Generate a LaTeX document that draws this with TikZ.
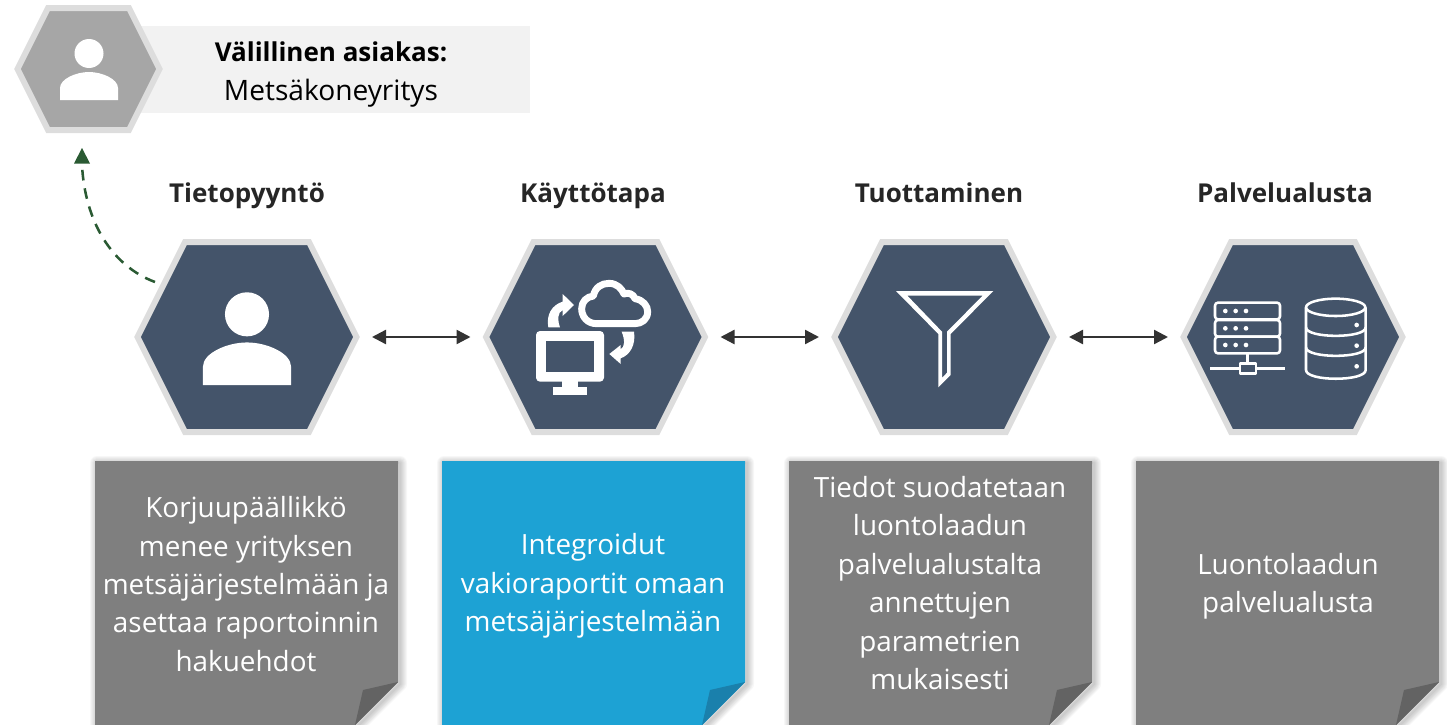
\documentclass[tikz,border=0pt]{standalone}
\usepackage{fontspec}
\setmainfont{Open Sans}
\usetikzlibrary{arrows.meta}
\definecolor{hexdark}{HTML}{44546A}
\definecolor{hexedge}{HTML}{DDDDDD}
\definecolor{hexgray}{HTML}{A6A6A6}
\definecolor{panel}{HTML}{F2F2F2}
\definecolor{notegray}{HTML}{7F7F7F}
\definecolor{foldgray}{HTML}{636363}
\definecolor{noteblue}{HTML}{1DA2D4}
\definecolor{foldblue}{HTML}{1A80AC}
\definecolor{dashgreen}{HTML}{2A5A33}
\definecolor{titletext}{HTML}{262626}
\definecolor{arrowdark}{HTML}{333333}
\tikzset{
  anchorbox/.style={minimum width=187.5pt,minimum height=142.5pt,inner sep=0pt,outer sep=0pt},
  titletextstyle/.style={font=\fontsize{19.5}{24}\selectfont\bfseries,text=titletext,inner sep=0pt,anchor=base},
  notetext/.style={font=\fontsize{20.9}{28.8}\selectfont,text=white,align=center,inner sep=0pt},
  link/.style={arrowdark,line width=1.8pt,{Triangle[length=10.5pt,width=10.5pt]}-{Triangle[length=10.5pt,width=10.5pt]}},
  iconline/.style={draw=white,line width=1.9pt,line join=round,fill=none},
  iconfill/.style={fill=white,draw=none},
}
\newcommand{\bighex}[2]{%
  \fill[hexdark,draw=hexedge,line width=4.5pt,line join=miter]
    (#1-109.5,#2) -- (#1-62,#2-95) -- (#1+62,#2-95) -- (#1+109.5,#2) -- (#1+62,#2+95) -- (#1-62,#2+95) -- cycle;}
\newcommand{\papernote}[3]{%
  \foreach \w in {2,4,...,14}{%
    \draw[black,opacity=.032,line width=\w*0.75pt,line join=round,fill=none]
      (#1+2,463) -- (#1+305,463) -- (#1+305,684) -- (#1+262,727) -- (#1+2,727) -- cycle;}
  \fill[#2] (#1,461) -- (#1+303,461) -- (#1+303,682) -- (#1+260,725) -- (#1,725) -- cycle;
  \fill[#3] (#1+303,682) -- (#1+268,690) -- (#1+260,725) -- cycle;}
\newcommand{\personicon}[3]{%
  \begin{scope}[shift={(#1,#2)},x=#3*0.75pt,y=-#3*0.75pt]
    \fill[white] (0,-46.5) circle[radius=14.5];
    \fill[white] (-29,0) -- (-29,-12) .. controls (-29,-21) and (-13,-28) .. (0,-28)
      .. controls (13,-28) and (29,-21) .. (29,-12) -- (29,0) -- cycle;
  \end{scope}}
\begin{document}
\begin{tikzpicture}[x=0.75pt,y=-0.75pt]
\useasboundingbox (0,0) rectangle (1447,725);
\clip (0,0) rectangle (1447,725);

% top panel
\fill[panel] (130,26) rectangle (530,113);
\fill[hexgray,draw=hexedge,line width=4.5pt,line join=miter]
  (17.5,69) -- (48,8) -- (129,8) -- (159.5,69) -- (129,130) -- (48,130) -- cycle;
\node[anchorbox,minimum width=110pt,minimum height=92pt] (client) at (88.5,69) {};
\personicon{89}{100}{1}
\node[font=\fontsize{19.5}{24}\selectfont\bfseries,text=black,inner sep=0pt,anchor=base] (clienttitle) at (331,61) {Välillinen asiakas:};
\node[font=\fontsize{21.1}{24}\selectfont,text=black,inner sep=0pt,anchor=base] (clientname) at (331,100) {Metsäkoneyritys};

% titles
\node[titletextstyle] (t1) at (247,202) {Tietopyyntö};
\node[titletextstyle] (t2) at (593,202) {Käyttötapa};
\node[titletextstyle] (t3) at (939,202) {Tuottaminen};
\node[titletextstyle] (t4) at (1285,202) {Palvelualusta};

% hexagons
\bighex{247}{337}
\bighex{595.5}{337}
\bighex{944}{337}
\bighex{1293}{337}
\node[anchorbox] (h1) at (247,337) {};
\node[anchorbox] (h2) at (595.5,337) {};
\node[anchorbox] (h3) at (944,337) {};
\node[anchorbox] (h4) at (1293,337) {};

% connectors
\draw[link] (h1.east) -- (h2.west);
\draw[link] (h2.east) -- (h3.west);
\draw[link] (h3.east) -- (h4.west);

% dashed return arrow
\coordinate (dashstart) at (155,282);
\coordinate (dashend) at (82,148);
\draw[dashgreen,line width=1.9pt,dash pattern=on 8pt off 6pt]
  (dashstart) .. controls (112,266) and (85,222) .. (82,165);
\fill[dashgreen] (dashend) -- (90,163.5) -- (74,163.5) -- cycle;

% person icon
\personicon{247}{385}{1.52}

% monitor and cloud icon
\begin{scope}[shift={(480,230)},x=0.25pt,y=-0.25pt]
  \fill[white,rounded corners=3pt] (168,303) rectangle (372,455);
  \fill[hexdark] (197,332) rectangle (343,425);
  \fill[white] (247,450) rectangle (293,472);
  \fill[white] (218,470) rectangle (322,495);
  \draw[iconline,line width=5.2pt]
    (350,281) .. controls (322,281) and (305,260) .. (305,236)
    .. controls (305,215) and (320,200) .. (340,198)
    .. controls (345,172) and (365,160) .. (387,160)
    .. controls (410,160) and (425,175) .. (432,192)
    .. controls (445,186) and (460,192) .. (465,206)
    .. controls (490,210) and (503,228) .. (503,245)
    .. controls (503,268) and (485,281) .. (465,281) -- cycle;
  \fill[iconfill] (205,292) .. controls (198,255) and (215,225) .. (248,215)
    -- (248,192) -- (282,225) -- (248,258) -- (248,240)
    .. controls (232,248) and (232,270) .. (240,292) -- cycle;
  \fill[iconfill] (462,305) .. controls (468,345) and (450,375) .. (422,385)
    -- (422,402) -- (388,372) -- (422,345) -- (422,358)
    .. controls (435,350) and (435,330) .. (425,305) -- cycle;
\end{scope}

% funnel icon
\begin{scope}[shift={(830,230)},x=0.25pt,y=-0.25pt]
  \fill[white,even odd rule]
    (198,183) -- (490,183) -- (362,312) -- (362,435) -- (325,472) -- (325,312) -- cycle
    (232,197) -- (458,197) -- (351,305) -- (351,428) -- (336,444) -- (336,305) -- cycle;
\end{scope}

% server and database icon
\begin{scope}[shift={(1170,230)},x=0.25pt,y=-0.25pt]
  \foreach \yt/\yb in {218/268,270/320,320/370}{
    \draw[iconline,rounded corners=2.2pt] (135,\yt) rectangle (330,\yb);
    \foreach \xd in {166,197,228}{
      \fill[white] (\xd,\yt+25) circle[radius=7];
    }
  }
  \draw[iconline] (232,370) -- (232,400);
  \draw[iconline] (210,400) rectangle (258,430);
  \draw[iconline] (120,415) -- (210,415);
  \draw[iconline] (258,415) -- (345,415);
  \draw[iconline] (497,232) ellipse[x radius=89,y radius=26];
  \draw[iconline] (408,232) -- (408,420) .. controls (408,455) and (587,455) .. (587,420) -- (587,232);
  \draw[iconline] (408,292) .. controls (408,326) and (587,326) .. (587,292);
  \draw[iconline] (408,352) .. controls (408,386) and (587,386) .. (587,352);
  \foreach \yd in {285,347,409}{
    \fill[white] (560,\yd) circle[radius=7];
  }
\end{scope}

% notes
\papernote{95}{notegray}{foldgray}
\papernote{442}{noteblue}{foldblue}
\papernote{789}{notegray}{foldgray}
\papernote{1136}{notegray}{foldgray}
\node[notetext] (n1) at (246,584) {Korjuupäällikkö\\menee yrityksen\\metsäjärjestelmään ja\\asettaa raportoinnin\\hakuehdot};
\node[notetext] (n2) at (593,586) {Integroidut\\vakioraportit omaan\\metsäjärjestelmään};
\node[notetext] (n3) at (940,583) {Tiedot suodatetaan\\luontolaadun\\palvelualustalta\\annettujen\\parametrien\\mukaisesti};
\node[notetext] (n4) at (1288,586) {Luontolaadun\\palvelualusta};
\end{tikzpicture}
\end{document}
